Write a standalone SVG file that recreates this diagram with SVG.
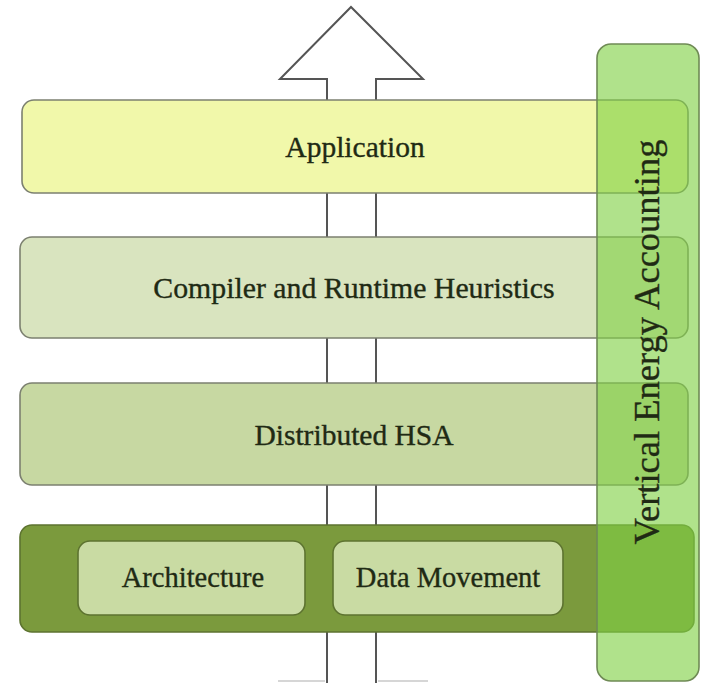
<svg xmlns="http://www.w3.org/2000/svg" width="706" height="683" viewBox="0 0 706 683">
<style>
.lay{stroke:#7c8070;stroke-width:1.6}
.t{font-family:"Liberation Serif","Times New Roman",serif;fill:#1f2a14;stroke:#1f2a14;stroke-width:0.35;text-anchor:middle}
.arrow{fill:#fff;stroke:#555;stroke-width:2}
</style>
<rect width="706" height="683" fill="#fff"/>
<g id="connectors">
<path class="arrow" d="M327,683 L327,79 L280,79 L351,7 L423,79 L376,79 L376,683"/>
<line x1="278" y1="681" x2="325" y2="681" stroke="#c8c8c8" stroke-width="1.5"/>
<line x1="378" y1="681" x2="428" y2="681" stroke="#c8c8c8" stroke-width="1.5"/>
</g>
<g id="application">
<rect class="lay" x="22" y="100" width="666" height="93" rx="12" fill="#f1f8aa"/>
<text class="t" x="355" y="157" font-family="Liberation Serif, serif" font-size="29.5">Application</text>
</g>
<g id="compiler">
<rect class="lay" x="20" y="237" width="668" height="101" rx="12" fill="#d9e4bf"/>
<text class="t" x="354" y="298" font-family="Liberation Serif, serif" font-size="29.8">Compiler and Runtime Heuristics</text>
</g>
<g id="hsa">
<rect class="lay" x="20" y="383" width="668" height="102" rx="12" fill="#c7d8a2"/>
<text class="t" x="354" y="445" font-family="Liberation Serif, serif" font-size="29.5">Distributed HSA</text>
</g>
<g id="hardware">
<rect x="20" y="525" width="674" height="107" rx="12" fill="#7b9a3d" stroke="#5d7330" stroke-width="1.6"/>
</g>
<g id="architecture">
<rect x="78" y="541" width="227" height="74" rx="12" fill="#c9dba3" stroke="#5d7330" stroke-width="1.6"/>
<text class="t" x="193" y="587" font-family="Liberation Serif, serif" font-size="28.5">Architecture</text>
</g>
<g id="data-movement">
<rect x="333" y="541" width="230" height="74" rx="12" fill="#c9dba3" stroke="#5d7330" stroke-width="1.6"/>
<text class="t" x="448" y="587" font-family="Liberation Serif, serif" font-size="28.5">Data Movement</text>
</g>
<g id="vertical-energy">
<rect x="597" y="44" width="102" height="637" rx="14" fill="rgb(128,208,68)" fill-opacity="0.62" stroke="#6f8a55" stroke-width="1.6"/>
<text class="t" transform="translate(659,342) rotate(-90)" x="0" y="0" font-family="Liberation Serif, serif" font-size="36.5">Vertical Energy Accounting</text>
</g>
</svg>
